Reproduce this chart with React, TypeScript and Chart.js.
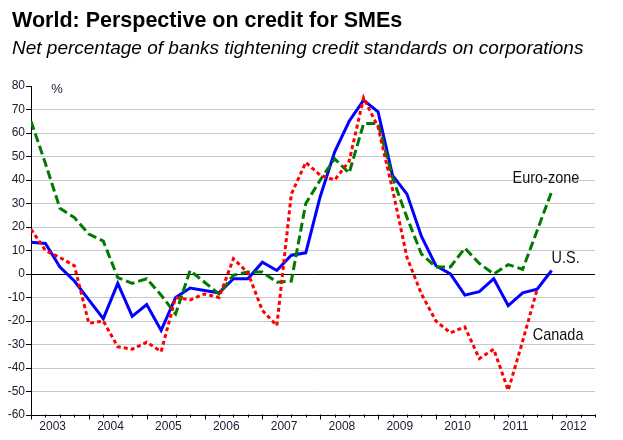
import React, { useEffect, useRef } from "react";
import { Chart, registerables } from "chart.js";

Chart.register(...registerables);

// Quarterly observations, 2003Q1 .. 2012Q1 (index = quarter number from 2003Q1)
const yearLabels = ["2003", "2004", "2005", "2006", "2007", "2008", "2009", "2010", "2011", "2012"];

const usValues = [
  13.5, 13, 3, -3, -11, -19, -4, -18, -13, -24, -10, -6, -7, -8, -2, -2, 5, 1.5, 8, 9,
  33, 52, 65, 74, 69, 42, 34, 16, 3.5, 0, -9, -7.5, -2, -13.5, -8, -6.5, 1.5,
];

const euroValues = [
  65, 47, 28, 24, 17, 14, -1.5, -4, -2, -9, -17, 1.5, -3.5, -8.5, -0.5, 0.8, 0.8, -3.5, -3, 30,
  40, 49, 43, 64, 64, 41, 24, 8.5, 3, 3, 11, 4.5, 0, 4, 2, 18.5, 35,
];

const canadaValues = [
  19, 10, 7, 3.5, -21, -20, -31, -32, -29, -33, -10, -11, -8.5, -10, 6.5, 0.5, -15.5, -22, 34, 47.5,
  42, 40, 48, 75, 62.5, 36, 7, -8.5, -20, -25, -22.5, -36, -32, -49.5, -28.5, -6.5,
];

const seriesNames = ["U.S.", "Euro-zone", "Canada"];
const yTickMin = -60;
const yTickMax = 80;
const yTickStep = 10;
const quartersOnAxis = 39;

const FONT = "'Liberation Sans', Arial, Helvetica, sans-serif";

const toPoints = (vals: number[]) => vals.map((y, i) => ({ x: i, y }));

const decorPlugin = {
  id: "decor",
  afterDraw(chart: any) {
    const { ctx, chartArea, scales } = chart;
    const xs = scales.x;
    const ys = scales.y;
    ctx.save();
    // quarter tick marks on the x axis
    ctx.strokeStyle = "#000";
    ctx.lineWidth = 1;
    const yb = Math.round(chartArea.bottom) + 0.5;
    for (let q = 0; q <= quartersOnAxis; q++) {
      const px = Math.round(xs.getPixelForValue(q)) + 0.5;
      const len = q % 4 === 0 ? 4 : 2;
      ctx.beginPath();
      ctx.moveTo(px, yb - 1);
      ctx.lineTo(px, yb + len);
      ctx.stroke();
    }
    // % unit
    ctx.fillStyle = "#1a1a33";
    ctx.font = `13px ${FONT}`;
    ctx.textAlign = "center";
    ctx.textBaseline = "middle";
    ctx.fillText("%", chartArea.left + 26, chartArea.top + 3);

    // series labels (condensed)
    const labels = [
      { t: seriesNames[1], x: 33.3, y: 40.6 },
      { t: seriesNames[0], x: 36.0, y: 6.6 },
      { t: seriesNames[2], x: 34.7, y: -26.2 },
    ];
    ctx.font = `17px ${FONT}`;
    ctx.textAlign = "left";
    ctx.fillStyle = "#111";
    for (const l of labels) {
      ctx.save();
      ctx.translate(xs.getPixelForValue(l.x), ys.getPixelForValue(l.y));
      ctx.scale(0.85, 1);
      ctx.fillText(l.t, 0, 0);
      ctx.restore();
    }
    ctx.restore();
  },
};

export default function App() {
  const ref = useRef<HTMLCanvasElement | null>(null);

  useEffect(() => {
    document.body.style.margin = "0";
    if (!ref.current) return;
    const chart = new Chart(ref.current, {
      type: "line",
      data: {
        datasets: [
          {
            label: seriesNames[2],
            data: toPoints(canadaValues),
            borderColor: "#ff0000",
            borderWidth: 3,
            borderDash: [4, 3],
            pointRadius: 0,
            tension: 0,
            fill: false,
            order: 0,
          },
          {
            label: seriesNames[1],
            data: toPoints(euroValues),
            borderColor: "#007a00",
            borderWidth: 3,
            borderDash: [9, 4],
            pointRadius: 0,
            tension: 0,
            fill: false,
            order: 1,
          },
          {
            label: seriesNames[0],
            data: toPoints(usValues),
            borderColor: "#0000ff",
            borderWidth: 3,
            pointRadius: 0,
            tension: 0,
            fill: false,
            order: 2,
          },
        ],
      },
      options: {
        animation: false,
        responsive: false,
        devicePixelRatio: 1,
        layout: { padding: { top: 86, right: 28, left: 0, bottom: 0 } },
        plugins: { legend: { display: false }, tooltip: { enabled: false }, title: { display: false } },
        scales: {
          x: {
            type: "linear",
            min: 0,
            max: quartersOnAxis,
            afterBuildTicks: (s: any) => {
              s.ticks = yearLabels.map((_, k) => ({ value: 4 * k + 1.5 }));
            },
            afterFit: (s: any) => {
              s.height = 25;
            },
            grid: { display: false, drawTicks: true, tickLength: 4 },
            border: { display: true, color: "#000", width: 1 },
            ticks: {
              autoSkip: false,
              maxRotation: 0,
              padding: 0,
              color: "#1a1a33",
              font: { size: 12, family: FONT },
              callback: (v: any) => {
                const k = Math.round((Number(v) - 1.5) / 4);
                return yearLabels[k] ?? "";
              },
            },
          },
          y: {
            min: yTickMin,
            max: yTickMax,
            afterFit: (s: any) => {
              s.width = 31;
            },
            grid: {
              color: (c: any) =>
                c.tick && c.tick.value === 0 ? "#000" : c.tick && c.tick.value === yTickMax ? "rgba(0,0,0,0)" : "#c8c8c8",
              tickColor: "#000",
              tickLength: 5,
              lineWidth: 1,
            },
            border: { display: true, color: "#000", width: 1 },
            ticks: {
              stepSize: yTickStep,
              padding: 1,
              color: "#1a1a33",
              font: { size: 12, family: FONT },
            },
          },
        },
      },
      plugins: [decorPlugin],
    });
    return () => chart.destroy();
  }, []);

  return (
    <div style={{ position: "relative", width: 623, height: 440, background: "#fff", overflow: "hidden" }}>
      <canvas ref={ref} width={623} height={440} style={{ position: "absolute", left: 0, top: 0 }} />
      <div
        style={{
          position: "absolute",
          left: 12,
          top: 7,
          font: `bold 21.5px ${FONT}`,
          lineHeight: "26px",
          color: "#000",
          whiteSpace: "nowrap",
        }}
      >
        World: Perspective on credit for SMEs
      </div>
      <div
        style={{
          position: "absolute",
          left: 12,
          top: 37,
          font: `italic 19px ${FONT}`,
          lineHeight: "22px",
          color: "#000",
          whiteSpace: "nowrap",
        }}
      >
        Net percentage of banks tightening credit standards on corporations
      </div>
    </div>
  );
}
